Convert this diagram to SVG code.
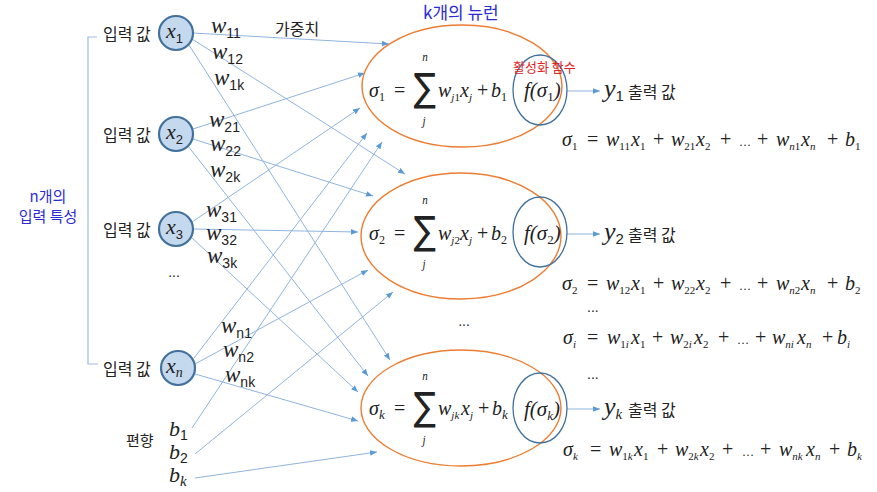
<svg xmlns="http://www.w3.org/2000/svg" width="877" height="492" viewBox="0 0 877 492">
<defs>
<marker id="ah" viewBox="0 0 10 10" refX="10" refY="5" markerWidth="7" markerHeight="7" markerUnits="userSpaceOnUse" orient="auto"><path d="M0,1 L10,5 L0,9 z" fill="#5B9BD5"/></marker>
</defs>
<style>
.bg{fill:#ffffff}
.ln{stroke:#8FB4DE;stroke-width:1;fill:none;marker-end:url(#ah)}
.br{stroke:#9DBCE0;stroke-width:1.2;fill:none}
.in{fill:#C5D9EE;stroke:#41719C;stroke-width:2.2}
.neu{fill:#ffffff;stroke:#ED7D31;stroke-width:1.4}
.act{fill:none;stroke:#41719C;stroke-width:1.3}
.kr{font-family:"Noto Sans CJK KR","Noto Sans",sans-serif;font-size:16px;fill:#222}
.blue{fill:#2B2BD6}
.red{fill:#E02424}
.m{font-family:"Liberation Serif","DejaVu Serif",serif;font-style:italic;font-size:20px;fill:#222}
.w{font-family:"Liberation Serif","DejaVu Serif",serif;font-style:italic;font-size:23px;fill:#222}
.ws{font-family:"Liberation Sans","Noto Sans",sans-serif;font-style:normal;font-size:14px}
.s{font-style:normal;font-size:11px}
.si{font-size:11px}
.op{font-style:normal}
.el{font-style:normal;font-size:12px}
.sig{font-family:"DejaVu Sans",sans-serif;font-size:39px;fill:#222}
.lim{font-family:"Liberation Serif","DejaVu Serif",serif;font-style:italic;font-size:13px;fill:#222}
.dots{font-family:"Liberation Sans",sans-serif;font-size:14px;fill:#222}
</style>
<rect class="bg" x="0" y="0" width="877" height="492"/>

<g id="connectors">
<path class="br" d="M97,37 H88 V364 H98"/>
<line class="ln" x1="193" y1="33" x2="389" y2="44"/>
<line class="ln" x1="192" y1="39" x2="405" y2="174"/>
<line class="ln" x1="189" y1="45" x2="390" y2="360"/>
<line class="ln" x1="193" y1="129" x2="365" y2="73"/>
<line class="ln" x1="193" y1="139" x2="373" y2="196"/>
<line class="ln" x1="188" y1="146" x2="368" y2="376"/>
<line class="ln" x1="192" y1="222" x2="360" y2="108"/>
<line class="ln" x1="193" y1="229" x2="358" y2="232"/>
<line class="ln" x1="191" y1="237" x2="358" y2="392"/>
<line class="ln" x1="194" y1="358" x2="367" y2="133"/>
<line class="ln" x1="195" y1="364" x2="368" y2="270"/>
<line class="ln" x1="195" y1="374" x2="358" y2="421"/>
<line class="ln" x1="192" y1="428" x2="382" y2="142"/>
<line class="ln" x1="195" y1="454" x2="393" y2="292"/>
<line class="ln" x1="195" y1="478" x2="377" y2="452"/>
<line class="ln" x1="567" y1="91" x2="600" y2="91"/>
<line class="ln" x1="567" y1="234" x2="600" y2="234"/>
<line class="ln" x1="567" y1="409" x2="600" y2="409"/>
</g>

<g id="features">
<text class="kr blue" x="48" y="202" text-anchor="middle" style="font-size:15px">n개의</text>
<text class="kr blue" x="48" y="222" text-anchor="middle" style="font-size:15px">입력 특성</text>
</g>

<g id="input1">
<text class="kr" x="103" y="40">입력 값</text>
<circle class="in" cx="176" cy="33" r="17"/>
<text class="w" x="166" y="38" style="font-size:22px">x<tspan class="ws" style="font-size:13px" dy="5">1</tspan></text>
</g>
<g id="input2">
<text class="kr" x="103" y="141">입력 값</text>
<circle class="in" cx="176" cy="134" r="17"/>
<text class="w" x="166" y="139" style="font-size:22px">x<tspan class="ws" style="font-size:13px" dy="5">2</tspan></text>
</g>
<g id="input3">
<text class="kr" x="103" y="236">입력 값</text>
<circle class="in" cx="176" cy="229" r="17"/>
<text class="w" x="166" y="234" style="font-size:22px">x<tspan class="ws" style="font-size:13px" dy="5">3</tspan></text>
<text class="dots" x="174" y="277" text-anchor="middle">...</text>
</g>
<g id="inputn">
<text class="kr" x="103" y="375">입력 값</text>
<circle class="in" cx="178" cy="368" r="17"/>
<text class="w" x="166" y="373" style="font-size:22px">x<tspan style="font-size:14px" dy="4">n</tspan></text>
</g>

<g id="weights">
<text class="kr" x="275" y="35">가중치</text>
<text class="w" x="211" y="33">w<tspan class="ws" dy="5">11</tspan></text>
<text class="w" x="212" y="59">w<tspan class="ws" dy="5">12</tspan></text>
<text class="w" x="214" y="85">w<tspan class="ws" dy="5">1k</tspan></text>
<text class="w" x="209" y="127">w<tspan class="ws" dy="5">21</tspan></text>
<text class="w" x="210" y="151">w<tspan class="ws" dy="5">22</tspan></text>
<text class="w" x="210" y="177">w<tspan class="ws" dy="5">2k</tspan></text>
<text class="w" x="206" y="217">w<tspan class="ws" dy="5">31</tspan></text>
<text class="w" x="206" y="240">w<tspan class="ws" dy="5">32</tspan></text>
<text class="w" x="207" y="263">w<tspan class="ws" dy="5">3k</tspan></text>
<text class="w" x="221" y="333">w<tspan class="ws" dy="5">n1</tspan></text>
<text class="w" x="223" y="357">w<tspan class="ws" dy="5">n2</tspan></text>
<text class="w" x="225" y="382">w<tspan class="ws" dy="5">nk</tspan></text>
</g>

<g id="bias">
<text class="kr" x="126" y="446" style="font-size:15px">편향</text>
<text class="w" x="169" y="436" style="font-size:22px">b<tspan class="ws" dy="4">1</tspan></text>
<text class="w" x="169" y="459" style="font-size:22px">b<tspan class="ws" dy="4">2</tspan></text>
<text class="w" x="169" y="482" style="font-size:22px">b<tspan style="font-size:15px" dy="4">k</tspan></text>
</g>

<text class="kr blue" x="423" y="19" style="font-size:17px">k개의 뉴런</text>

<g id="neuron1">
<ellipse class="neu" cx="462" cy="86" rx="100" ry="61"/>
<ellipse class="act" cx="540" cy="90" rx="27" ry="35"/>
<text class="kr red" x="513" y="72" style="font-size:13px">활성화 함수</text>
<text class="m" y="97"><tspan x="369">σ</tspan><tspan class="s" style="font-size:12px" dy="4">1</tspan><tspan class="op" x="394" dy="-4">=</tspan><tspan x="438">w</tspan><tspan class="si" dy="4">j</tspan><tspan class="s">1</tspan><tspan x="460" dy="-4">x</tspan><tspan class="si" dy="4">j</tspan><tspan class="op" x="477" dy="-4">+</tspan><tspan x="491">b</tspan><tspan class="s" style="font-size:12px" dy="4">1</tspan></text>
<text class="sig" text-anchor="middle" transform="translate(425,0) scale(0.85,1) translate(-425,0)"><tspan x="425" y="101">∑</tspan><tspan class="lim" x="425" y="61">n</tspan><tspan class="lim" x="424" y="125">j</tspan></text>
<text class="m red" x="524" y="97" style="font-size:21px">f(σ<tspan class="s" style="font-size:13px" dy="4">1</tspan><tspan dy="-4">)</tspan></text>
</g>
<g id="output1">
<text class="w" x="604" y="97" style="font-size:26px">y<tspan class="ws" style="font-size:15px" dy="4">1</tspan></text>
<text class="kr" x="628" y="98">출력 값</text>
</g>

<g id="neuron2">
<ellipse class="neu" cx="461" cy="236" rx="100" ry="63"/>
<ellipse class="act" cx="540" cy="232" rx="27" ry="35"/>
<text class="m" y="240"><tspan x="369">σ</tspan><tspan class="s" style="font-size:12px" dy="4">2</tspan><tspan class="op" x="394" dy="-4">=</tspan><tspan x="438">w</tspan><tspan class="si" dy="4">j</tspan><tspan class="s">2</tspan><tspan x="460" dy="-4">x</tspan><tspan class="si" dy="4">j</tspan><tspan class="op" x="477" dy="-4">+</tspan><tspan x="491">b</tspan><tspan class="s" style="font-size:12px" dy="4">2</tspan></text>
<text class="sig" text-anchor="middle" transform="translate(425,0) scale(0.85,1) translate(-425,0)"><tspan x="425" y="244">∑</tspan><tspan class="lim" x="425" y="204">n</tspan><tspan class="lim" x="424" y="268">j</tspan></text>
<text class="m red" x="524" y="240" style="font-size:21px">f(σ<tspan class="s" style="font-size:13px" dy="4">2</tspan><tspan dy="-4">)</tspan></text>
</g>
<g id="output2">
<text class="w" x="604" y="240" style="font-size:26px">y<tspan class="ws" style="font-size:15px" dy="4">2</tspan></text>
<text class="kr" x="628" y="241">출력 값</text>
</g>

<text class="dots" x="464" y="326" text-anchor="middle">...</text>

<g id="neuronk">
<ellipse class="neu" cx="461" cy="408" rx="100" ry="58"/>
<ellipse class="act" cx="540" cy="408" rx="27" ry="35"/>
<text class="m" y="415"><tspan x="369">σ</tspan><tspan style="font-size:13px" dy="4">k</tspan><tspan class="op" x="394" dy="-4">=</tspan><tspan x="438">w</tspan><tspan class="si" dy="4">jk</tspan><tspan x="461" dy="-4">x</tspan><tspan class="si" dy="4">j</tspan><tspan class="op" x="478" dy="-4">+</tspan><tspan x="492">b</tspan><tspan style="font-size:13px" dy="4">k</tspan></text>
<text class="sig" text-anchor="middle" transform="translate(425,0) scale(0.85,1) translate(-425,0)"><tspan x="425" y="420">∑</tspan><tspan class="lim" x="425" y="380">n</tspan><tspan class="lim" x="424" y="444">j</tspan></text>
<text class="m red" x="524" y="416" style="font-size:21px">f(σ<tspan style="font-size:13px" dy="4">k</tspan><tspan dy="-4">)</tspan></text>
</g>
<g id="outputk">
<text class="w" x="604" y="415" style="font-size:26px">y<tspan style="font-size:15px" dy="4">k</tspan></text>
<text class="kr" x="628" y="416">출력 값</text>
</g>

<g id="equations">
<text class="m" y="146"><tspan x="562">σ</tspan><tspan class="s" dy="4">1</tspan><tspan class="op" x="587" dy="-4">=</tspan><tspan x="606">w</tspan><tspan class="s" dy="4">11</tspan><tspan x="631" dy="-4">x</tspan><tspan class="s" dy="4">1</tspan><tspan class="op" x="653" dy="-4">+</tspan><tspan x="671">w</tspan><tspan class="s" dy="4">21</tspan><tspan x="696" dy="-4">x</tspan><tspan class="s" dy="4">2</tspan><tspan class="op" x="720" dy="-4">+</tspan><tspan class="el" x="739">…</tspan><tspan class="op" x="757">+</tspan><tspan x="776">w</tspan><tspan class="si" dy="4">n</tspan><tspan class="s">1</tspan><tspan x="801" dy="-4">x</tspan><tspan class="si" dy="4">n</tspan><tspan class="op" x="827" dy="-4">+</tspan><tspan x="845">b</tspan><tspan class="s" dy="4">1</tspan></text>

<text class="m" y="290"><tspan x="562">σ</tspan><tspan class="s" dy="4">2</tspan><tspan class="op" x="587" dy="-4">=</tspan><tspan x="606">w</tspan><tspan class="s" dy="4">12</tspan><tspan x="631" dy="-4">x</tspan><tspan class="s" dy="4">1</tspan><tspan class="op" x="653" dy="-4">+</tspan><tspan x="671">w</tspan><tspan class="s" dy="4">22</tspan><tspan x="696" dy="-4">x</tspan><tspan class="s" dy="4">2</tspan><tspan class="op" x="720" dy="-4">+</tspan><tspan class="el" x="739">…</tspan><tspan class="op" x="757">+</tspan><tspan x="776">w</tspan><tspan class="si" dy="4">n</tspan><tspan class="s">2</tspan><tspan x="801" dy="-4">x</tspan><tspan class="si" dy="4">n</tspan><tspan class="op" x="827" dy="-4">+</tspan><tspan x="845">b</tspan><tspan class="s" dy="4">2</tspan></text>

<text class="dots" x="587" y="312">...</text>

<text class="m" y="344"><tspan x="563">σ</tspan><tspan class="si" dy="4">i</tspan><tspan class="op" x="587" dy="-4">=</tspan><tspan x="607">w</tspan><tspan class="s" dy="4">1</tspan><tspan class="si">i</tspan><tspan x="631" dy="-4">x</tspan><tspan class="s" dy="4">1</tspan><tspan class="op" x="652" dy="-4">+</tspan><tspan x="670">w</tspan><tspan class="s" dy="4">2</tspan><tspan class="si">i</tspan><tspan x="694" dy="-4">x</tspan><tspan class="s" dy="4">2</tspan><tspan class="op" x="718" dy="-4">+</tspan><tspan class="el" x="737">…</tspan><tspan class="op" x="755">+</tspan><tspan x="772">w</tspan><tspan class="si" dy="4">ni</tspan><tspan x="797" dy="-4">x</tspan><tspan class="si" dy="4">n</tspan><tspan class="op" x="822" dy="-4">+</tspan><tspan x="837">b</tspan><tspan class="si" dy="4">i</tspan></text>

<text class="dots" x="587" y="379">...</text>

<text class="m" y="456"><tspan x="563">σ</tspan><tspan class="si" dy="4">k</tspan><tspan class="op" x="590" dy="-4">=</tspan><tspan x="609">w</tspan><tspan class="s" dy="4">1</tspan><tspan class="si">k</tspan><tspan x="634" dy="-4">x</tspan><tspan class="s" dy="4">1</tspan><tspan class="op" x="657" dy="-4">+</tspan><tspan x="675">w</tspan><tspan class="s" dy="4">2</tspan><tspan class="si">k</tspan><tspan x="700" dy="-4">x</tspan><tspan class="s" dy="4">2</tspan><tspan class="op" x="722" dy="-4">+</tspan><tspan class="el" x="742">…</tspan><tspan class="op" x="760">+</tspan><tspan x="779">w</tspan><tspan class="si" dy="4">nk</tspan><tspan x="806" dy="-4">x</tspan><tspan class="si" dy="4">n</tspan><tspan class="op" x="829" dy="-4">+</tspan><tspan x="847">b</tspan><tspan class="si" dy="4">k</tspan></text>
</g>
</svg>
